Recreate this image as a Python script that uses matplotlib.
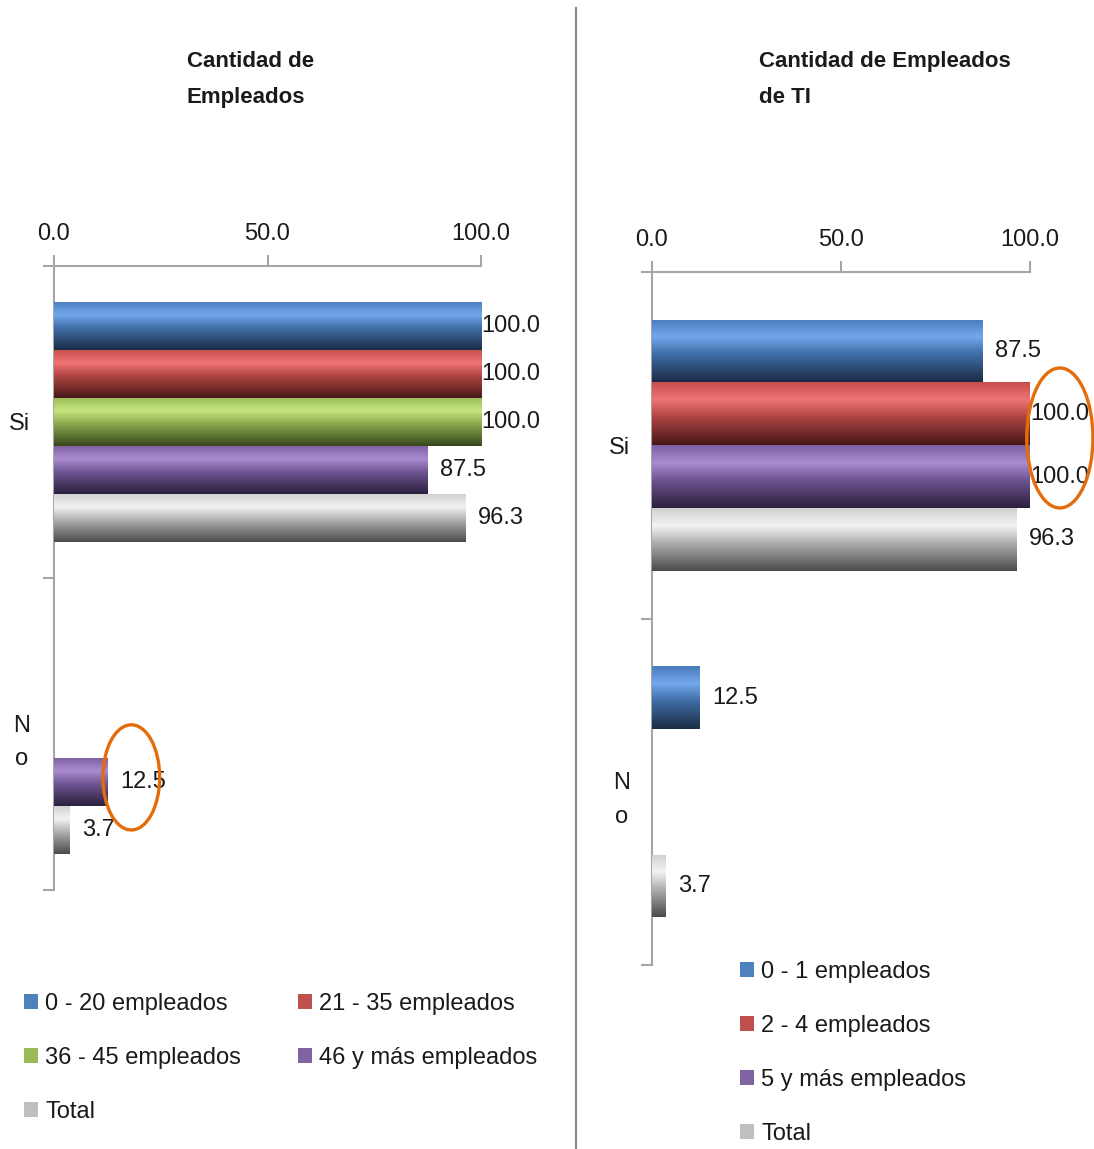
import matplotlib
matplotlib.use("Agg")
import matplotlib.pyplot as plt
from matplotlib import font_manager
from matplotlib.patches import Ellipse, Patch
from matplotlib.lines import Line2D
from matplotlib.colors import LinearSegmentedColormap
import numpy as np

# ---- data -------------------------------------------------------------
cat_labels = ["Si", "N\no"]
x_ticks = [0, 50, 100]
x_tick_labels = ["0.0", "50.0", "100.0"]

left_title = "Cantidad de\nEmpleados"
left_series = ["0 - 20 empleados", "21 - 35 empleados", "36 - 45 empleados",
               "46 y más empleados", "Total"]
left_si = [100.0, 100.0, 100.0, 87.5, 96.3]
left_no = [None, None, None, 12.5, 3.7]

right_title = "Cantidad de Empleados\nde TI"
right_series = ["0 - 1 empleados", "2 - 4 empleados", "5 y más empleados", "Total"]
right_si = [87.5, 100.0, 100.0, 96.3]
right_no = [12.5, None, None, 3.7]

# ---- style ------------------------------------------------------------
names = {f.name for f in font_manager.fontManager.ttflist}
FONT = "Liberation Sans Narrow" if "Liberation Sans Narrow" in names else "Liberation Sans"
plt.rcParams["font.family"] = [FONT, "DejaVu Sans"]
TXT = "#1a1a1a"
AXC = "#a6a6a6"
ORANGE = "#E46C0A"

# legend colour and bar shading stops (top, highlight, mid, bottom)
STYLE = {
    "blue":   ("#4F81BD", ["#4A7CBC", "#72A8EC", "#3F6EA8", "#1B2C45"]),
    "red":    ("#C0504D", ["#C64E4C", "#EE7573", "#B04543", "#461717"]),
    "green":  ("#9BBB59", ["#98BA57", "#C6E67F", "#8AA84C", "#37461C"]),
    "purple": ("#8064A2", ["#7C5FA0", "#AA8CD2", "#6F5592", "#2A1F3C"]),
    "gray":   ("#BFBFBF", ["#CFCFCF", "#F3F3F3", "#B0B0B0", "#4A4A4A"]),
}
left_colors = ["blue", "red", "green", "purple", "gray"]
right_colors = ["blue", "red", "purple", "gray"]


def shaded_cmap(key):
    stops = STYLE[key][1]
    return LinearSegmentedColormap.from_list(
        key, list(zip([0.0, 0.28, 0.55, 1.0], stops)))


GRAD = np.linspace(0, 1, 256).reshape(-1, 1)

W, H = 1094, 1149
fig = plt.figure(figsize=(W / 100, H / 100), dpi=100)
fig.patch.set_facecolor("white")


def fx(px):
    return px / W


def fy(py):
    return 1 - py / H


def panel(rect, series, si, no, colors, group_frac, xpad, ypad):
    ax = fig.add_axes(rect)
    n = len(series)
    h = group_frac / n
    for i in range(n):
        cmap = shaded_cmap(colors[i])
        for c, v in enumerate([si[i], no[i]]):
            if v is None:
                continue
            p = c + (i - (n - 1) / 2) * h
            bar = ax.barh(p, v, height=h, color=STYLE[colors[i]][0],
                          zorder=2, linewidth=0)[0]
            x0, y0 = bar.get_x(), bar.get_y()
            bw, bh = bar.get_width(), bar.get_height()
            im = ax.imshow(GRAD, extent=[x0, x0 + bw, y0 + bh, y0],
                           origin="upper", aspect="auto", cmap=cmap,
                           interpolation="bilinear", zorder=3)
            im.set_clip_path(bar)
            off = 0 if v >= 100 else 9
            ax.annotate(f"{v:.1f}", xy=(v, p), xytext=(off, 0),
                        textcoords="offset points", ha="left", va="center",
                        fontsize=17, color=TXT, zorder=6)
    ax.set_xlim(0, 100)
    ax.set_ylim(1.5, -0.5)
    ax.xaxis.tick_top()
    ax.set_xticks(x_ticks, labels=x_tick_labels)
    ax.tick_params(axis="x", length=8, width=1.5, color=AXC, pad=xpad,
                   labelsize=17, labelcolor=TXT)
    ax.set_yticks([0, 1], labels=cat_labels)
    ax.set_yticks([-0.5, 0.5, 1.5], minor=True)
    ax.tick_params(axis="y", which="major", length=0, pad=ypad,
                   labelsize=17, labelcolor=TXT)
    ax.tick_params(axis="y", which="minor", length=8, width=1.5, color=AXC)
    for lab in ax.get_yticklabels():
        lab.set_multialignment("center")
        lab.set_linespacing(1.7)
    for s in ("right", "bottom"):
        ax.spines[s].set_visible(False)
    for s in ("top", "left"):
        ax.spines[s].set_color(AXC)
        ax.spines[s].set_linewidth(1.5)
    ax.set_facecolor("none")
    return ax


axl = panel([fx(54), fy(890), fx(481) - fx(54), fy(266) - fy(890)],
            left_series, left_si, left_no, left_colors, 0.77, 7, 17)
axr = panel([fx(652), fy(965), fx(1030) - fx(652), fy(272) - fy(965)],
            right_series, right_si, right_no, right_colors, 0.725, 7, 16)

# highlight circles
axl.add_patch(Ellipse((18.1, 1.139), 13.3, 0.337, fill=False, ec=ORANGE,
                      lw=2.4, clip_on=False, zorder=7))
axr.add_patch(Ellipse((107.9, -0.021), 17.5, 0.404, fill=False, ec=ORANGE,
                      lw=2.4, clip_on=False, zorder=7))

# titles
fig.text(fx(187), fy(51), left_title, ha="left", va="top", fontsize=16,
         fontweight="bold", color=TXT, linespacing=1.95)
fig.text(fx(759), fy(51), right_title, ha="left", va="top", fontsize=16,
         fontweight="bold", color=TXT, linespacing=1.95)

# separator between the two panels
fig.add_artist(Line2D([fx(576), fx(576)], [0, fy(8)], transform=fig.transFigure,
                      color="#8c8c8c", lw=1.6))

# legends
def handles(series, colors):
    return [Patch(facecolor=STYLE[c][0], edgecolor="none", label=s)
            for s, c in zip(series, colors)]


hl = handles(left_series, left_colors)
order = [0, 2, 4, 1, 3]
fig.legend([hl[i] for i in order], [left_series[i] for i in order],
           loc="upper left", bbox_to_anchor=(fx(24), fy(993)), ncol=2,
           frameon=False, fontsize=17, handlelength=0.6, handleheight=0.6,
           handletextpad=0.3, columnspacing=2.4, labelspacing=1.35,
           borderpad=0, borderaxespad=0, labelcolor=TXT)
fig.legend(handles(right_series, right_colors), right_series,
           loc="upper left", bbox_to_anchor=(fx(740), fy(961)), ncol=1,
           frameon=False, fontsize=17, handlelength=0.6, handleheight=0.6,
           handletextpad=0.3, labelspacing=1.35,
           borderpad=0, borderaxespad=0, labelcolor=TXT)

fig.savefig("out.png", dpi=100, facecolor="white")
